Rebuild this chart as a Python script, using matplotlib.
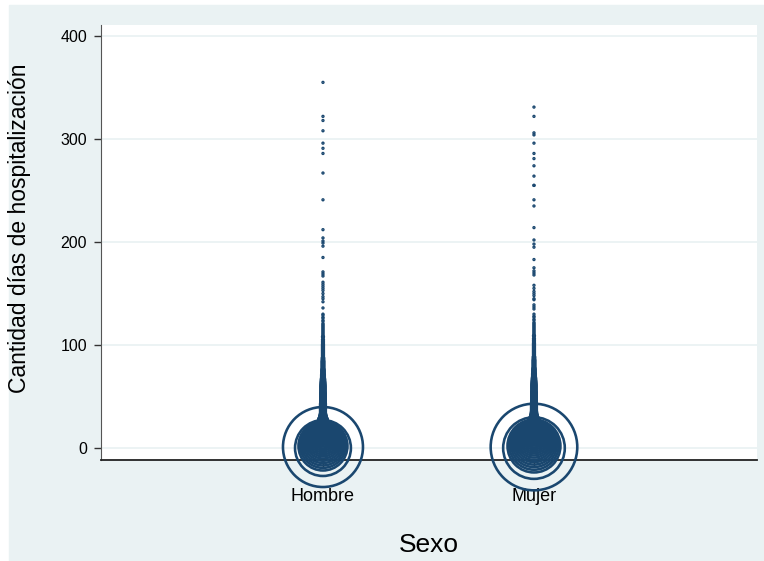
import matplotlib.pyplot as plt
import numpy as np
from matplotlib.patches import Rectangle

# frequency of each length of stay (days 0..130), by sex
hombre_n = [780, 1600, 600, 526, 462, 405, 355, 311, 273, 240,
            210, 184, 162, 142, 124, 109, 96, 84, 74, 65,
            57, 50, 44, 38, 34, 29, 26, 23, 20, 17,
            15, 13, 12, 11, 10, 10, 10, 10, 10, 10,
            10, 10, 10, 10, 9, 9, 9, 9, 9, 9,
            9, 9, 9, 9, 8, 8, 8, 8, 8, 8,
            8, 8, 7, 7, 7, 6, 6, 6, 5, 5,
            5, 5, 4, 4, 4, 4, 4, 3, 3, 3,
            3, 3, 3, 3, 3, 3, 2, 3, 2, 2,
            2, 2, 2, 2, 2, 2, 2, 2, 2, 2,
            2, 2, 1, 2, 1, 2, 1, 1, 2, 1,
            1, 1, 1, 1, 1, 1, 1, 1, 1, 1,
            1, 1, 0, 1, 1, 0, 1, 1, 0, 1, 1]
mujer_n = [950, 1875, 700, 613, 537, 471, 412, 361, 316, 277,
           243, 213, 186, 163, 143, 125, 110, 96, 84, 74,
           65, 57, 50, 43, 38, 33, 29, 26, 22, 20,
           17, 15, 13, 12, 11, 11, 10, 10, 10, 10,
           10, 10, 10, 10, 10, 9, 9, 9, 9, 9,
           9, 9, 9, 9, 9, 8, 8, 8, 8, 8,
           8, 8, 8, 7, 7, 7, 6, 6, 6, 5,
           5, 5, 5, 4, 4, 4, 4, 4, 3, 3,
           3, 3, 3, 3, 3, 3, 3, 2, 3, 2,
           2, 2, 2, 2, 2, 2, 2, 2, 2, 2,
           2, 2, 2, 1, 2, 1, 2, 1, 1, 2,
           1, 1, 1, 1, 1, 1, 1, 1, 1, 1,
           1, 1, 1, 0, 1, 1, 0, 1, 1, 0, 1]

# single long stays beyond the dense part
hombre_tail = [136, 142, 145, 147, 150, 153, 155, 157, 159, 161,
               167, 169, 171, 185, 196, 199, 201, 204, 212, 241,
               267, 286, 291, 296, 308, 318, 322, 355]
mujer_tail = [135, 137, 139, 144, 145, 148, 150, 152, 155, 158,
              168, 170, 172, 175, 183, 195, 198, 202, 214, 235,
              241, 255, 255, 264, 274, 281, 286, 296, 304, 306,
              322, 331]

categorias = ["Hombre", "Mujer"]
navy = "#1A476F"
panel = "#EAF2F3"

plt.rcParams["font.family"] = ["Liberation Sans", "DejaVu Sans"]

fig = plt.figure(figsize=(7.64, 5.61), dpi=100)
fig.patches.append(Rectangle((9 / 764, 0), 1 - 9 / 764, 1 - 5 / 561,
                             transform=fig.transFigure, color=panel, zorder=-1))
ax = fig.add_axes([101 / 764, 101 / 561, 656 / 764, 435 / 561])

px = 72 / 100  # points per pixel

# hollow markers weighted by frequency (area ~ count)
for pos, counts, tail in [(1, hombre_n, hombre_tail), (2, mujer_n, mujer_tail)]:
    dias = np.concatenate([np.arange(len(counts)), tail])
    n = np.concatenate([counts, np.ones(len(tail))])
    keep = n > 0
    dias, n = dias[keep], n[keep]
    order = np.argsort(-n)
    radius = np.sqrt(n[order])
    outline = np.minimum(2.6, 1.1 + 0.25 * radius)
    ax.scatter(np.full(order.size, pos), dias[order],
               s=(2 * radius * px) ** 2,
               facecolors="none", edgecolors=navy,
               linewidths=outline * px,
               clip_on=False, zorder=3)

ax.set_xlim(-0.052, 3.057)
ax.set_ylim(-11.6, 410.7)
ax.set_yticks([0, 100, 200, 300, 400])
ax.set_xticks([1, 2])
ax.set_xticklabels(categorias)
ax.grid(axis="y", color=panel, linewidth=1.3, zorder=0)
ax.set_axisbelow(True)

for side in ["top", "right"]:
    ax.spines[side].set_visible(False)
ax.spines["left"].set_color("#555555")
ax.spines["bottom"].set_color("#222222")
ax.spines["bottom"].set_linewidth(1.3)

ax.tick_params(axis="y", length=5, width=1, color="#333333", pad=5,
               labelsize=11.5)
ax.tick_params(axis="x", length=5, width=1, color="#222222", pad=15,
               labelsize=13)

ax.set_ylabel("Cantidad días de hospitalización", fontsize=16.5)
ax.yaxis.set_label_coords(-0.107, 0.533)
ax.set_xlabel("Sexo", fontsize=19)
ax.xaxis.set_label_coords(0.5, -0.168)

fig.savefig("out.png", dpi=100)
